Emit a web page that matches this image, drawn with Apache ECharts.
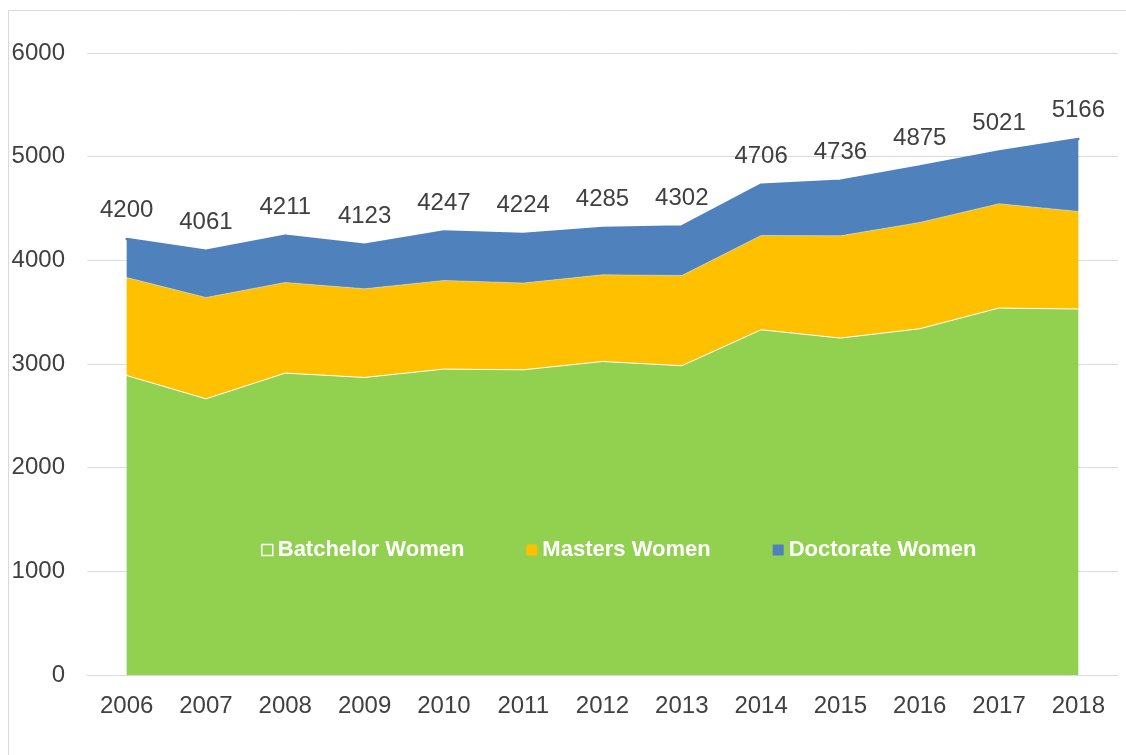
<!DOCTYPE html>
<html>
<head>
<meta charset="utf-8">
<script src="https://cdn.jsdelivr.net/npm/echarts@6/dist/echarts.min.js"></script>
<style>
  html, body { margin: 0; padding: 0; background: #fff; }
  #main { width: 1126px; height: 755px; }
</style>
</head>
<body>
<div id="main"></div>
<script>
// years on the x axis
const years = ['2006', '2007', '2008', '2009', '2010', '2011', '2012', '2013', '2014', '2015', '2016', '2017', '2018'];

// stacked values
const batchelorWomen = [2889, 2664, 2912, 2870, 2951, 2944, 3024, 2983, 3330, 3250, 3340, 3540, 3530];
const mastersWomen = [946, 978, 875, 856, 855, 837, 837, 871, 910, 987, 1026, 1006, 942];
const doctorateWomen = [371, 451, 450, 425, 473, 472, 451, 473, 490, 531, 540, 505, 699];

// total labels printed above the stack
const totalLabels = [4200, 4061, 4211, 4123, 4247, 4224, 4285, 4302, 4706, 4736, 4875, 5021, 5166];

const chart = echarts.init(document.getElementById('main'));

const fontFamily = '"Liberation Sans", Arial, sans-serif';

const option = {
  animation: false,
  textStyle: { fontFamily: fontFamily },
  graphic: [
    {
      // chart frame (only the top and left edges are in view)
      type: 'rect',
      shape: { x: 8.5, y: 10.5, width: 1300, height: 900 },
      style: { fill: 'none', stroke: '#d9d9d9', lineWidth: 1 },
      silent: true,
      z: -1
    }
  ],
  grid: {
    left: 87,
    right: 8,
    top: 53,
    bottom: 80
  },
  legend: {
    left: 256,
    top: 534,
    itemWidth: 11,
    itemHeight: 11,
    itemGap: 62,
    icon: 'rect',
    textStyle: {
      color: '#ffffff',
      fontWeight: 'bold',
      fontSize: 22,
      fontFamily: fontFamily
    },
    data: [
      { name: 'Batchelor Women', itemStyle: { color: 'rgba(0,0,0,0)', borderColor: '#ffffff', borderWidth: 1.5 } },
      { name: 'Masters Women' },
      { name: 'Doctorate Women' }
    ]
  },
  xAxis: {
    type: 'category',
    data: years,
    boundaryGap: true,
    axisLine: { show: true, lineStyle: { color: '#d9d9d9', width: 1 } },
    axisTick: { show: false },
    axisLabel: { color: '#404040', fontSize: 24, margin: 19 },
    splitLine: { show: false }
  },
  yAxis: {
    type: 'value',
    min: 0,
    max: 6000,
    interval: 1000,
    axisLine: { show: false },
    axisTick: { show: false },
    axisLabel: {
      color: '#404040',
      fontSize: 24,
      margin: 22,
      formatter: function (v) { return String(v); }
    },
    splitLine: { lineStyle: { color: '#d9d9d9', width: 1 } }
  },
  series: [
    {
      name: 'Batchelor Women',
      type: 'line',
      stack: 'total',
      data: batchelorWomen,
      symbol: 'none',
      color: '#92D050',
      lineStyle: { color: '#ffffff', width: 1 },
      areaStyle: { color: '#92D050', opacity: 1 }
    },
    {
      name: 'Masters Women',
      type: 'line',
      stack: 'total',
      data: mastersWomen,
      symbol: 'none',
      color: '#FFC000',
      lineStyle: { color: 'rgba(255,255,255,0.35)', width: 1 },
      areaStyle: { color: '#FFC000', opacity: 1 }
    },
    {
      name: 'Doctorate Women',
      type: 'line',
      stack: 'total',
      data: doctorateWomen,
      symbol: 'circle',
      symbolSize: 1,
      color: '#4F81BD',
      itemStyle: { color: '#4F81BD' },
      lineStyle: { color: '#4F81BD', width: 2.5, cap: 'round' },
      areaStyle: { color: '#4F81BD', opacity: 1 },
      label: {
        show: true,
        position: 'top',
        distance: 16,
        color: '#404040',
        fontSize: 24,
        formatter: function (p) { return String(totalLabels[p.dataIndex]); }
      }
    }
  ]
};

chart.setOption(option);
</script>
</body>
</html>
